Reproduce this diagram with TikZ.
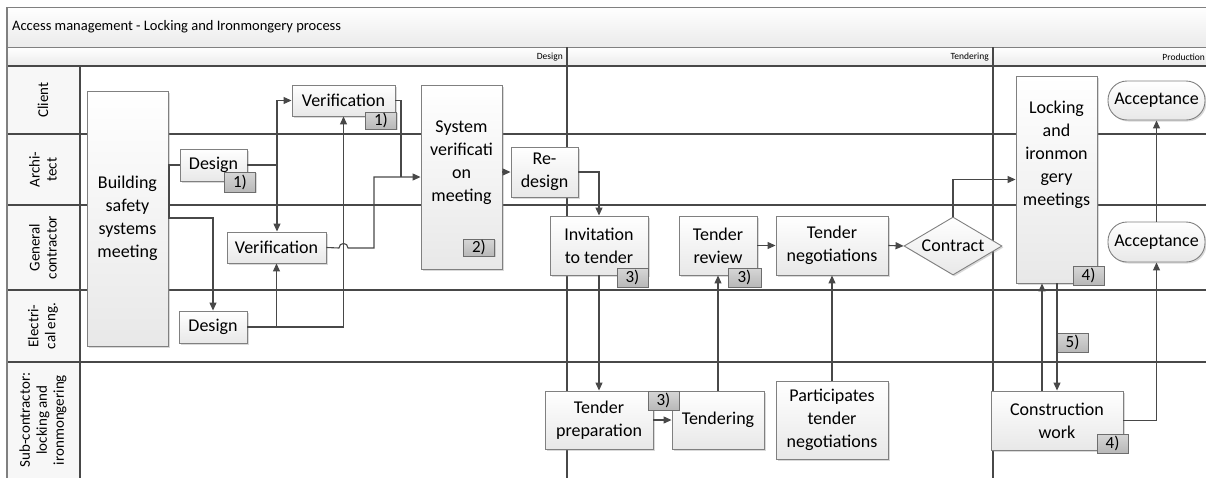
\documentclass[tikz,border=0pt]{standalone}
\usepackage{fontspec}
\setmainfont{Carlito}
\usetikzlibrary{shapes.geometric,arrows.meta,shadows,calc}
\definecolor{ln}{HTML}{484848}
\definecolor{bd}{HTML}{808080}
\definecolor{bfill}{HTML}{E8E8E8}
\definecolor{hdr}{HTML}{EBEBEB}
\definecolor{badgetop}{HTML}{D6D6D6}
\definecolor{badgebot}{HTML}{B8B8B8}
\begin{document}
\begin{tikzpicture}[x=1pt,y=-1pt,
  box/.style={draw=bd, line width=0.9pt, top color=white, bottom color=bfill, inner sep=1pt,
    align=center, font=\fontsize{18}{23}\selectfont,
    drop shadow={shadow xshift=1.5pt,shadow yshift=-1.5pt,opacity=0.3}},
  badge/.style={draw=ln!80, line width=0.8pt, top color=badgetop, bottom color=badgebot,
    minimum width=31, minimum height=19, inner sep=0pt, font=\fontsize{17}{17}\selectfont,
    drop shadow={shadow xshift=1pt,shadow yshift=-1pt,opacity=0.3}},
  con/.style={draw=ln, line width=1.1pt},
  arr/.style={con, -{Triangle[length=8pt,width=7pt]}},
  lane/.style={draw=ln, line width=1.2pt},
  lanelab/.style={rotate=90, align=center, font=\fontsize{15}{17}\selectfont},
  phase/.style={anchor=east, font=\fontsize{9.5}{11}\selectfont, inner sep=0pt}
]
\useasboundingbox (0,0) rectangle (1206,477);
\clip (0,0) rectangle (1206,477);
% frame
\draw[draw=bd, line width=1pt, top color=white, bottom color=hdr] (7,7) rectangle (1216,47);
\draw[draw=bd, line width=1pt, top color=white, bottom color=hdr] (7,47) rectangle (1216,66);
\node[anchor=west, font=\fontsize{14.5}{16}\selectfont, inner sep=0pt] (title) at (12,27) {Access management - Locking and Ironmongery process};
\node[phase] (ph1) at (563,57) {Design};
\node[phase] (ph2) at (989,57) {Tendering};
\node[phase] (ph3) at (1205,57) {Production};
\fill[white!97!black] (7,66) rectangle (80,480);
% lanes
\draw[lane] (7,66) -- (1216,66);
\draw[lane] (7,134) -- (1216,134);
\draw[lane] (7,205) -- (1216,205);
\draw[lane, line width=2pt] (7,290) -- (1216,290);
\draw[lane] (7,362) -- (1216,362);
\draw[lane] (80,66) -- (80,480);
\draw[draw=bd, line width=1.2pt] (7,7) -- (7,480);
\draw[lane] (567,47) -- (567,480);
\draw[lane] (993,47) -- (993,480);
\node[lanelab] (l1) at (43,100) {Client};
\node[lanelab] (l2) at (43,169.5) {Archi-\\tect};
\node[lanelab] (l3) at (43,247.5) {General\\contractor};
\node[lanelab] (l4) at (43,326) {Electri-\\cal eng.};
\node[lanelab] (l5) at (43,420) {Sub-contractor:\\locking and\\ironmongering};
% nodes
\node[box, minimum width=81, minimum height=255] (bsm) at (127.5,218.5) {Building\\safety\\systems\\meeting};
\node[box, minimum width=67, minimum height=32] (des1) at (213.5,165) {Design};
\node[box, minimum width=103, minimum height=31] (ver1) at (343.5,100.5) {Verification};
\node[box, minimum width=99, minimum height=31] (verGC) at (276.5,247.5) {Verification};
\node[box, minimum width=68, minimum height=32] (des2) at (213,327) {Design};
\node[box, minimum width=81, minimum height=184] (svm) at (461.5,177) {System\\verificati\\on\\meeting\\[8pt]};
\node[box, minimum width=67, minimum height=50] (redes) at (544.5,172) {Re-\\design};
\node[box, minimum width=98, minimum height=59] (inv) at (599,245.5) {Invitation\\to tender};
\node[box, minimum width=78, minimum height=59] (trev) at (718,245.5) {Tender\\review};
\node[box, minimum width=112, minimum height=59] (tneg) at (832,245.5) {Tender\\negotiations};
\node[box, diamond, aspect=1.69, minimum width=98, minimum height=58, inner sep=0pt] (contract) at (953,246) {Contract};
\node[box, minimum width=81, minimum height=207] (lim) at (1056.5,179.5) {Locking\\and\\ironmon\\gery\\meetings\\[30pt]};
\node[box, rounded corners=19pt, minimum width=97, minimum height=39] (acc1) at (1156.5,100.5) {Acceptance};
\node[box, rounded corners=19pt, minimum width=97, minimum height=40] (acc2) at (1156.5,242) {Acceptance};
\node[box, minimum width=108, minimum height=58] (tprep) at (599,420) {Tender\\preparation};
\node[box, minimum width=92, minimum height=58] (tend) at (718,420) {Tendering};
\node[box, minimum width=112, minimum height=78] (part) at (832,420) {Participates\\tender\\negotiations};
\node[box, minimum width=132, minimum height=59] (cons) at (1057,420.5) {Construction\\work};
% badges
\node[badge, minimum height=20] (b1a) at (240,182) {1)};
\node[badge, minimum height=17] (b1b) at (381,120.5) {1)};
\node[badge, minimum height=17] (b2) at (479,247.5) {2)};
\node[badge] (b3a) at (632.5,277.5) {3)};
\node[badge, minimum width=33] (b3b) at (744.5,277.5) {3)};
\node[badge] (b3c) at (663.5,400.5) {3)};
\node[badge] (b4a) at (1088.5,275.5) {4)};
\node[badge] (b4b) at (1112.5,443.5) {4)};
\node[badge] (b5) at (1072.5,342.5) {5)};
% coordinates
\coordinate (j1) at (169,165);
\coordinate (j2) at (213,218);
\coordinate (j3) at (277,165);
\coordinate (h1) at (339,248);
\coordinate (h2) at (348,248);
\coordinate (j5) at (374,248);
\coordinate (j6) at (401,177);
\coordinate (x1) at (1042,0);
\coordinate (x2) at (1057,0);
% connectors
\draw[con] (bsm.east |- j1) -- (des1.west);
\draw[arr] (j1) |- (j2) -- (des2.north);
\draw[arr] (des1.east) -- (j3) |- (ver1.west);
\draw[arr] (j3) -- (j3 |- verGC.north);
\draw[arr] (des2.east) -| (ver1.south);
\draw[arr] (verGC.south |- des2.east) -- (verGC.south);
\draw[arr] (verGC.east) -- (h1) .. controls ($(h1)+(0,-6)$) and ($(h2)+(0,-6)$) .. (h2) -- (j5) |- (svm.west);
\draw[con] (ver1.east) -| (j6);
\draw[arr] (svm.east |- redes.west) -- (redes.west);
\draw[arr] (redes.east) -| (inv.north);
\draw[arr] (inv.south) -- (tprep.north);
\draw[arr] (tprep.east |- tend.west) -- (tend.west);
\draw[arr] (tend.north) -- (trev.south);
\draw[arr] (trev.east) -- (tneg.west);
\draw[arr] (part.north) -- (tneg.south);
\draw[arr] (tneg.east) -- (contract.west);
\draw[arr] (contract.north) |- (lim.west);
\draw[arr] (cons.north -| x1) -- (lim.south -| x1);
\draw[arr] (lim.south -| x2) -- (cons.north -| x2);
\draw[arr] (cons.east) -| (acc2.south);
\draw[arr] (acc2.north) -- (acc1.south);
\end{tikzpicture}
\end{document}
